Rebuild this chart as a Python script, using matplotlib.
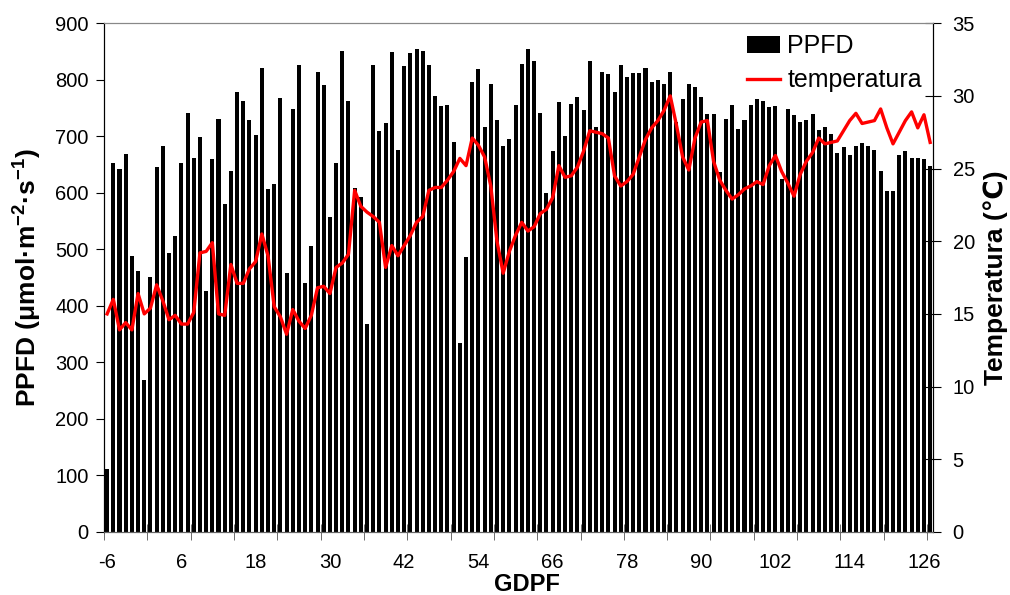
import matplotlib
matplotlib.use("Agg")
import matplotlib.pyplot as plt
import numpy as np

# dias de crescimento (GDPF) e medições diárias
days = np.arange(-6, 128)

ppfd = [111, 653, 642, 668, 488, 461, 269, 451, 645, 682,
        493, 523, 653, 741, 661, 698, 426, 659, 730, 580,
        638, 778, 762, 729, 702, 821, 606, 615, 767, 458,
        748, 826, 440, 506, 813, 790, 557, 653, 851, 762,
        609, 592, 367, 826, 709, 724, 849, 675, 824, 847,
        854, 851, 826, 771, 753, 755, 690, 334, 486, 796,
        819, 716, 792, 729, 682, 696, 755, 827, 854, 833,
        742, 600, 674, 760, 700, 757, 769, 746, 833, 716,
        813, 810, 778, 826, 804, 812, 812, 821, 796, 799,
        792, 813, 725, 766, 792, 788, 769, 739, 739, 637,
        730, 755, 712, 729, 755, 766, 762, 751, 753, 625,
        748, 737, 725, 729, 739, 711, 717, 704, 670, 681,
        667, 682, 688, 682, 675, 639, 603, 603, 667, 674,
        661, 661, 659, 647]

temperatura = [15.0, 16.0, 13.9, 14.4, 13.9, 16.4, 15.0, 15.4, 17.0, 15.9,
               14.6, 14.9, 14.3, 14.3, 15.1, 19.2, 19.3, 19.9, 15.0, 14.9,
               18.4, 17.1, 17.1, 18.1, 18.6, 20.5, 19.0, 15.5, 14.8, 13.6,
               15.3, 14.5, 14.0, 14.9, 16.8, 16.9, 16.4, 18.2, 18.5, 19.1,
               23.5, 22.4, 22.0, 21.7, 21.3, 18.2, 19.7, 19.0, 19.7, 20.4,
               21.3, 21.7, 23.5, 23.7, 23.7, 24.2, 24.8, 25.7, 25.2, 27.1,
               26.6, 25.8, 23.8, 20.0, 17.8, 19.3, 20.4, 21.3, 20.7, 21.0,
               21.9, 22.2, 23.0, 25.2, 24.4, 24.5, 25.1, 26.2, 27.6, 27.5,
               27.4, 27.1, 24.5, 23.8, 24.1, 24.6, 25.8, 27.0, 27.8, 28.3,
               29.0, 30.0, 28.0, 25.8, 24.9, 27.1, 28.2, 28.3, 25.5, 24.2,
               23.5, 22.9, 23.2, 23.6, 23.8, 24.1, 23.9, 25.2, 25.9, 24.8,
               24.0, 23.1, 24.6, 25.5, 26.1, 27.1, 26.7, 26.8, 26.9, 27.6,
               28.3, 28.8, 28.1, 28.2, 28.3, 29.1, 27.8, 26.7, 27.5, 28.3,
               28.9, 27.8, 28.7, 26.8]

tick_days = np.arange(-6, 127, 12)

plt.rcParams['font.family'] = ['Liberation Sans', 'DejaVu Sans']
plt.rcParams['axes.unicode_minus'] = False
plt.rcParams['mathtext.fontset'] = 'custom'
plt.rcParams['mathtext.bf'] = 'Liberation Sans:bold'
plt.rcParams['mathtext.default'] = 'bf'

fig = plt.figure(figsize=(10.1, 5.95), dpi=100)
ax = fig.add_axes([0.103, 0.106, 0.821, 0.855])
ax2 = ax.twinx()

# barras de PPFD
bars = ax.bar(days, ppfd, width=0.65, color='black', label='PPFD', zorder=2)
ax.set_ylim(0, 900)
ax.set_yticks(np.arange(0, 901, 100))
ax.set_xlim(-6.5, 127.5)
ax.set_xticks(tick_days)
ax.set_xticks(np.arange(-6.5, 127, 7), minor=True)
ax.tick_params(axis='x', which='major', length=0, labelsize=14.5, pad=15)
ax.tick_params(axis='x', which='minor', length=12, direction='inout', color='#555555')
ax.tick_params(axis='y', length=6, direction='out', labelsize=14.5, pad=5)

# linha de temperatura
line, = ax2.plot(days, temperatura, color='#ff0000', lw=2.4, label='temperatura', zorder=3)
ax2.set_ylim(0, 35)
ax2.set_yticks(np.arange(0, 36, 5))
ax2.tick_params(axis='y', length=12, direction='inout', labelsize=14.5, pad=8)

for a in (ax, ax2):
    a.spines['top'].set_color('#888888')
    a.spines['bottom'].set_color('#666666')
    a.spines['left'].set_color('black')
    a.spines['right'].set_color('black')

ax.set_ylabel('PPFD (μmol·m$^{-2}$·s$^{-1}$)', fontsize=19, fontweight='bold', labelpad=8)
ax2.set_ylabel('Temperatura (℃)', fontsize=19, fontweight='bold', labelpad=6)
ax.set_xlabel('GDPF', fontsize=17, fontweight='bold')
ax.xaxis.set_label_coords(0.51, -0.08)

ax.legend([bars, line], ['PPFD', 'temperatura'], loc='upper right',
          bbox_to_anchor=(1.0, 1.0), frameon=False, fontsize=18,
          handlelength=1.3, handletextpad=0.3, labelspacing=0.4, borderaxespad=0.05)

fig.savefig('out.png', dpi=100)
